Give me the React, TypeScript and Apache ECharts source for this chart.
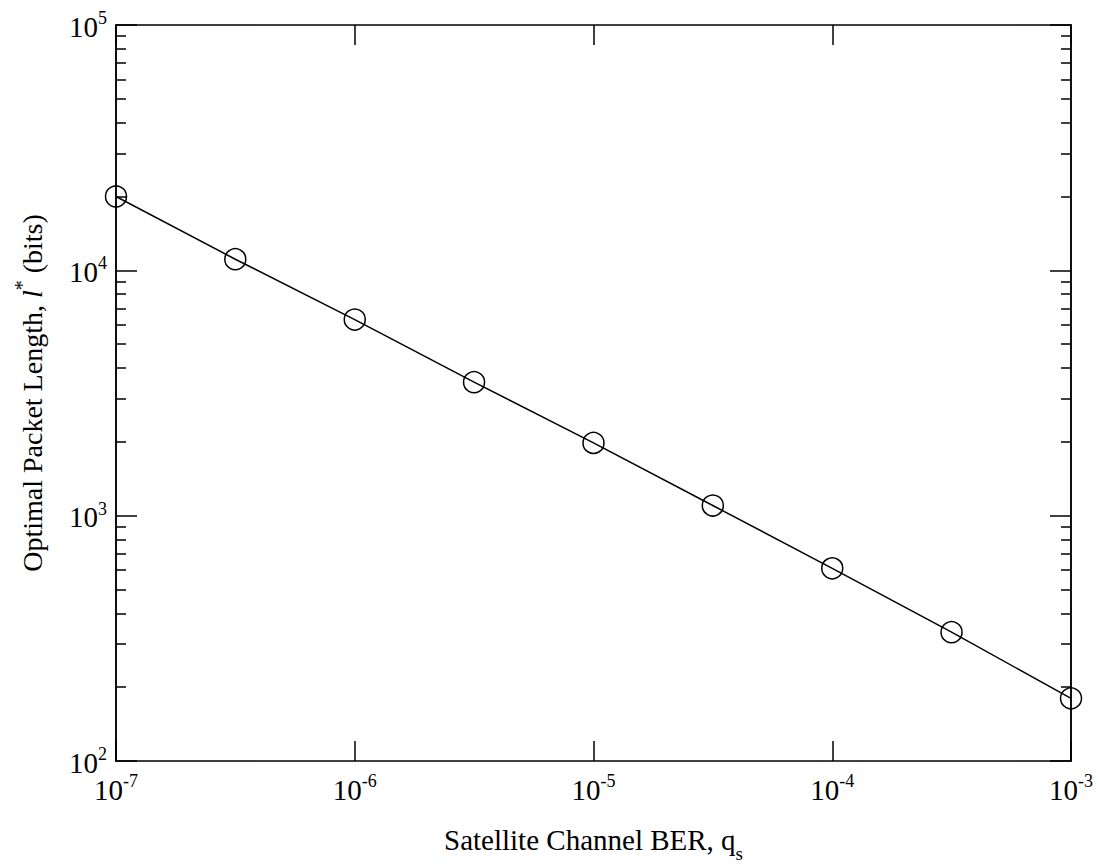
import React, { useEffect, useRef } from "react";
import * as echarts from "echarts";

const berValues = [1e-7, 3.16e-7, 1e-6, 3.16e-6, 1e-5, 3.16e-5, 1e-4, 3.16e-4, 1e-3];
const packetLengths = [20000, 11100, 6300, 3500, 1980, 1100, 610, 335, 180];
const xMajorTicks = [1e-7, 1e-6, 1e-5, 1e-4, 1e-3];
const yMajorTicks = [1e2, 1e3, 1e4, 1e5];
const yMinorTicks = [
  200, 300, 400, 500, 600, 700, 800, 900,
  2000, 3000, 4000, 5000, 6000, 7000, 8000, 9000,
  20000, 30000, 40000, 50000, 60000, 70000, 80000, 90000,
];

const FONT = "'Liberation Serif', 'Times New Roman', serif";
const BLACK = "#000";

const powRich = {
  b: { fontFamily: FONT, fontSize: 29, lineHeight: 32, color: BLACK, verticalAlign: "bottom" },
  sup: { fontFamily: FONT, fontSize: 18, lineHeight: 18, color: BLACK, verticalAlign: "top" },
};
const powFormatter = (v: number) => `{b|10}{sup|${Math.round(Math.log10(v))}}`;

export default function App() {
  const ref = useRef<HTMLDivElement>(null);
  useEffect(() => {
    if (!ref.current) return;
    const chart = echarts.init(ref.current, null, { renderer: "svg" });
    const lineStyle = { color: BLACK, width: 1.5 };
    const baseY = (position: "left" | "right", ticks: number[], len: number, labels: boolean, name?: boolean) => ({
      type: "log",
      logBase: 10,
      min: 100,
      max: 100000,
      position,
      offset: 0,
      axisLine: { show: true, lineStyle },
      axisTick: { show: true, inside: true, length: len, customValues: ticks, lineStyle },
      minorTick: { show: false },
      splitLine: { show: false },
      axisLabel: labels
        ? { show: true, customValues: ticks, formatter: powFormatter, rich: powRich, margin: 9 }
        : { show: false },
      ...(name
        ? {
            name: "{a|Optimal Packet Length, }{i|l}{sup|*}{a| (bits)}",
            nameLocation: "middle",
            nameGap: 70,
            nameTextStyle: {
              fontFamily: FONT,
              fontSize: 28,
              color: BLACK,
              rich: {
                a: { fontFamily: FONT, fontSize: 28, lineHeight: 34, color: BLACK, verticalAlign: "bottom" },
                i: { fontFamily: FONT, fontSize: 28, lineHeight: 34, color: BLACK, fontStyle: "italic", verticalAlign: "bottom" },
                sup: { fontFamily: FONT, fontSize: 20, lineHeight: 20, color: BLACK, verticalAlign: "top" },
              },
            },
          }
        : {}),
    });
    chart.setOption({
      animation: false,
      backgroundColor: "#fff",
      grid: { left: 116, right: 28, top: 25, bottom: 104, containLabel: false, outerBoundsMode: "none" },
      xAxis: [
        {
          type: "log",
          logBase: 10,
          min: 1e-7,
          max: 1e-3,
          position: "bottom",
          axisLine: { show: true, lineStyle },
          axisTick: { show: true, inside: true, length: 20, customValues: xMajorTicks, lineStyle },
          splitLine: { show: false },
          axisLabel: { show: true, customValues: xMajorTicks, formatter: powFormatter, rich: powRich, margin: 11 },
          name: "{a|Satellite Channel BER, q}{sub|s}",
          nameLocation: "middle",
          nameGap: 64,
          nameTextStyle: {
            fontFamily: FONT,
            fontSize: 29,
            color: BLACK,
            rich: {
              a: { fontFamily: FONT, fontSize: 29, lineHeight: 32, color: BLACK, verticalAlign: "top" },
              sub: { fontFamily: FONT, fontSize: 19, lineHeight: 38, color: BLACK, verticalAlign: "bottom" },
            },
          },
        },
        {
          type: "log",
          logBase: 10,
          min: 1e-7,
          max: 1e-3,
          position: "top",
          axisLine: { show: true, lineStyle },
          axisTick: { show: true, inside: true, length: 20, customValues: xMajorTicks, lineStyle },
          splitLine: { show: false },
          axisLabel: { show: false },
        },
      ],
      yAxis: [
        baseY("left", yMajorTicks, 21, true, true),
        baseY("left", yMinorTicks, 10, false),
        baseY("right", yMajorTicks, 21, false),
        baseY("right", yMinorTicks, 10, false),
      ],
      series: [
        {
          type: "line",
          xAxisIndex: 0,
          yAxisIndex: 0,
          data: berValues.map((x, i) => [x, packetLengths[i]]),
          symbol: "circle",
          symbolSize: 21,
          showSymbol: true,
          clip: false,
          lineStyle: { color: BLACK, width: 1.5 },
          itemStyle: { color: "rgba(0,0,0,0)", borderColor: BLACK, borderWidth: 1.5 },
          z: 5,
        },
      ],
    });
    return () => chart.dispose();
  }, []);
  return (
    <div
      ref={ref}
      style={{ position: "fixed", left: 0, top: 0, width: 1099, height: 865, background: "#fff" }}
    />
  );
}
